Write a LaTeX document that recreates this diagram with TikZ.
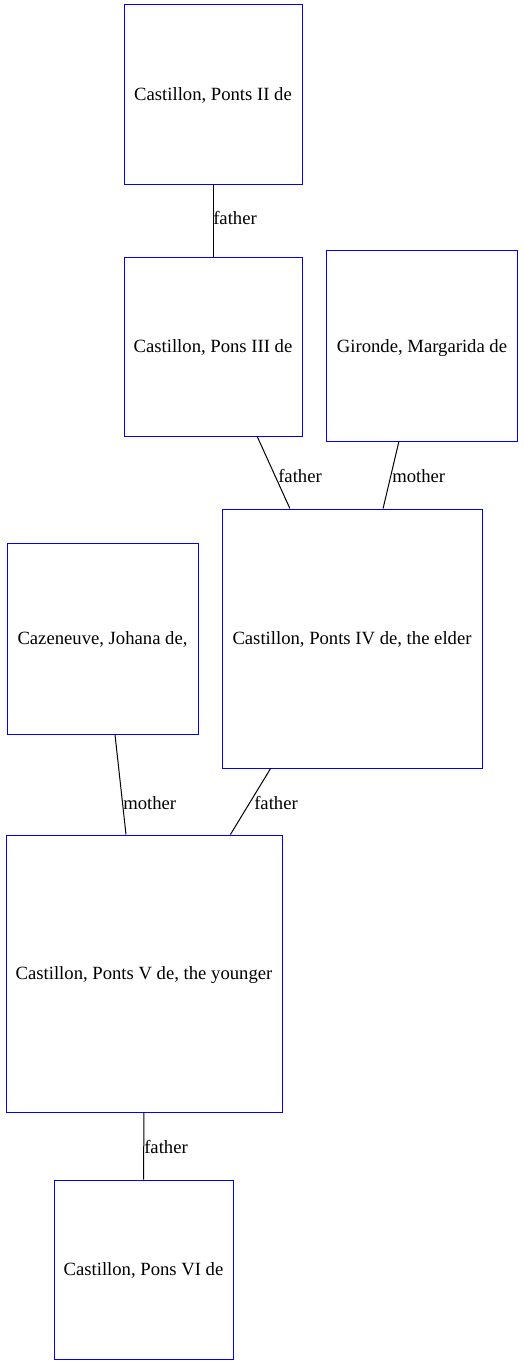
\documentclass[tikz,border=0pt]{standalone}
\usepackage{fontspec}
\setmainfont{Liberation Serif}
\usetikzlibrary{calc}
\definecolor{gvblue}{RGB}{0,0,255}
\begin{document}
\begin{tikzpicture}[x=0.75pt,y=-0.75pt,
  person/.style={draw=gvblue,line width=0.75pt,inner sep=0pt,text depth=0pt,font=\fontsize{14}{16}\selectfont},
  rel/.style={draw=black,line width=0.75pt},
  lab/.style={font=\fontsize{14}{16}\selectfont,inner sep=0pt,anchor=west}]
\useasboundingbox (0,0) rectangle (524,1366);
\node[person,draw=none,minimum width=190*0.75pt,minimum height=190*0.75pt] (gir) at (422,346) {Gironde, Margarida de};
\draw[gvblue,line width=0.8pt] (gir.north west) rectangle (gir.south east);
\node[person,minimum width=178*0.75pt,minimum height=179*0.75pt] (p2) at (213,94.5) {Castillon, Ponts II de};
\node[person,minimum width=178*0.75pt,minimum height=179*0.75pt] (p3) at (213,346.5) {Castillon, Pons III de};
\node[person,minimum width=191*0.75pt,minimum height=191*0.75pt] (ca) at (102.5,638.5) {Cazeneuve, Johana de,};
\node[person,minimum width=260*0.75pt,minimum height=259*0.75pt] (p4) at (352,638.5) {Castillon, Ponts IV de, the elder};
\node[person,minimum width=276*0.75pt,minimum height=277*0.75pt] (p5) at (144,973.5) {Castillon, Ponts V de, the younger};
\node[person,minimum width=179*0.75pt,minimum height=179*0.75pt] (p6) at (143.5,1269.5) {Castillon, Pons VI de};

\draw[rel] (p2.south) -- (p3.north);
\node[lab] (l1) at (213,218) {father};
\draw[rel] ($(p3.south west)!0.747!(p3.south east)$) -- ($(p4.north west)!0.262!(p4.north east)$);
\node[lab] (l2) at (278,476) {father};
\draw[rel] ($(gir.south west)!0.379!(gir.south east)$) -- ($(p4.north west)!0.619!(p4.north east)$);
\node[lab] (l3) at (392,476) {mother};
\draw[rel] ($(ca.south west)!0.565!(ca.south east)$) -- ($(p5.north west)!0.435!(p5.north east)$);
\node[lab] (l4) at (123,803) {mother};
\draw[rel] ($(p4.south west)!0.188!(p4.south east)$) -- ($(p5.north west)!0.812!(p5.north east)$);
\node[lab] (l5) at (254,803) {father};
\draw[rel] (p5.south) -- (p6.north);
\node[lab] (l6) at (144,1147) {father};
\end{tikzpicture}
\end{document}
